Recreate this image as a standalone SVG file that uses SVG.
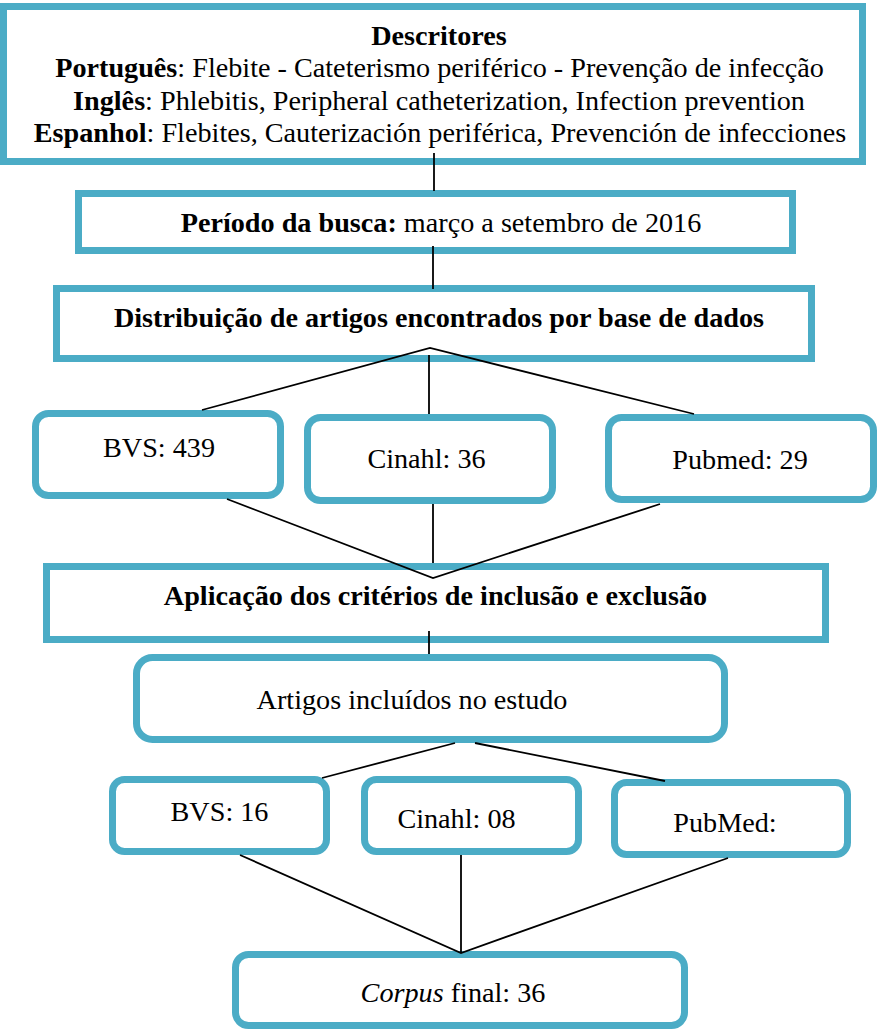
<svg xmlns="http://www.w3.org/2000/svg" width="878" height="1029" viewBox="0 0 878 1029">
<style>
.box{fill:#ffffff;stroke:#4BACC6;stroke-width:7}
.ln{stroke:#000000;stroke-width:1.8;fill:none}
.t{font-family:'Liberation Serif','Times New Roman',serif;font-size:28.2px;fill:#000000;text-anchor:middle}
.b{font-weight:bold}
.i{font-style:italic}
</style>
<rect width="878" height="1029" fill="#ffffff"/>
<g id="descritores">
<rect class="box" x="3.5" y="6.5" width="859" height="155"/>
<text class="t b" x="439" y="45">Descritores</text>
<text class="t" x="439.5" y="77"><tspan class="b">Português</tspan>: Flebite - Cateterismo periférico - Prevenção de infecção</text>
<text class="t" x="439" y="110"><tspan class="b">Inglês</tspan>: Phlebitis, Peripheral catheterization, Infection prevention</text>
<text class="t" x="440" y="142"><tspan class="b">Espanhol</tspan>: Flebites, Cauterización periférica, Prevención de infecciones</text>
</g>
<g id="periodo">
<rect class="box" x="78.5" y="193.5" width="714" height="57"/>
<text class="t" x="441" y="232"><tspan class="b">Período da busca:</tspan> março a setembro de 2016</text>
</g>
<g id="distribuicao">
<rect class="box" x="56.5" y="288.5" width="755" height="70"/>
<text class="t b" x="439" y="327">Distribuição de artigos encontrados por base de dados</text>
</g>
<g id="bvs1">
<rect class="box" x="35.5" y="413.5" width="245" height="82" rx="13"/>
<text class="t" x="159" y="457">BVS: 439</text>
</g>
<g id="cinahl1">
<rect class="box" x="307.5" y="417.5" width="245" height="83" rx="13"/>
<text class="t" x="426.5" y="468">Cinahl: 36</text>
</g>
<g id="pubmed1">
<rect class="box" x="608.5" y="417.5" width="265" height="82" rx="13"/>
<text class="t" x="740" y="469">Pubmed: 29</text>
</g>
<g id="aplicacao">
<rect class="box" x="46.5" y="566.5" width="779" height="73"/>
<text class="t b" x="435.5" y="605">Aplicação dos critérios de inclusão e exclusão</text>
</g>
<g id="artigos">
<rect class="box" x="136.5" y="657.5" width="588" height="82" rx="16"/>
<text class="t" x="412" y="709">Artigos incluídos no estudo</text>
</g>
<g id="bvs2">
<rect class="box" x="112.5" y="779.5" width="214" height="72" rx="12"/>
<text class="t" x="219.5" y="821">BVS: 16</text>
</g>
<g id="cinahl2">
<rect class="box" x="364.5" y="779.5" width="214" height="72" rx="12"/>
<text class="t" x="456.5" y="828">Cinahl: 08</text>
</g>
<g id="pubmed2">
<rect class="box" x="614.5" y="782.5" width="233" height="72" rx="12"/>
<text class="t" x="725" y="832">PubMed:</text>
</g>
<g id="corpus">
<rect class="box" x="235.5" y="954.5" width="449" height="71" rx="13"/>
<text class="t" x="453" y="1002"><tspan class="i">Corpus</tspan> final: 36</text>
</g>
<g id="connectors">
<line class="ln" x1="434" y1="153" x2="434" y2="191"/>
<line class="ln" x1="433" y1="246" x2="433" y2="289"/>
<polyline class="ln" points="202,410 430,348 694,414"/>
<line class="ln" x1="429" y1="355" x2="429" y2="414"/>
<polyline class="ln" points="227,499 433,578 660,504"/>
<line class="ln" x1="433" y1="504" x2="433" y2="563"/>
<line class="ln" x1="429" y1="631" x2="429" y2="654"/>
<line class="ln" x1="455" y1="743" x2="322" y2="778"/>
<line class="ln" x1="475" y1="743" x2="665" y2="781"/>
<polyline class="ln" points="240,855 461,953 728,858"/>
<line class="ln" x1="461" y1="855" x2="461" y2="953"/>
</g>
</svg>
